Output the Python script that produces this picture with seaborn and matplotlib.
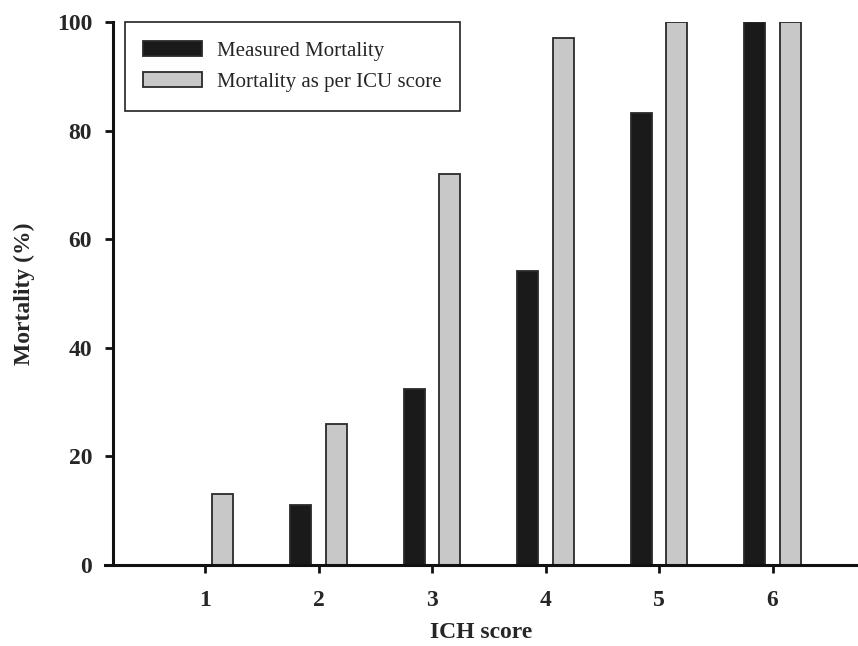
import matplotlib
matplotlib.use("Agg")
import matplotlib.pyplot as plt
import seaborn as sns
import pandas as pd

# data
ich_scores = ["1", "2", "3", "4", "5", "6"]
measured_mortality = [0, 11, 32.4, 54.1, 83.3, 100]
icu_score_mortality = [13, 26, 72, 97, 100, 100]
series_names = ["Measured Mortality", "Mortality as per ICU score"]

df = pd.DataFrame({
    "ICH score": ich_scores * 2,
    "Mortality": measured_mortality + icu_score_mortality,
    "Series": [series_names[0]] * len(ich_scores) + [series_names[1]] * len(ich_scores),
})

sns.set_theme(style="ticks")
plt.rcParams["font.family"] = ["Liberation Serif", "DejaVu Serif"]

fig = plt.figure(figsize=(8.58, 6.46), dpi=100)
ax = fig.add_axes([0.1224, 0.1254, 0.8776, 0.8406])

palette = {series_names[0]: "#1a1a1a", series_names[1]: "#c8c8c8"}
sns.barplot(data=df, x="ICH score", y="Mortality", hue="Series",
            order=ich_scores, hue_order=series_names, palette=palette,
            width=0.62, gap=0.4, edgecolor="#2a2a2a", linewidth=1.3,
            saturation=1, ax=ax)

ax.set_xlim(-0.881, 5.753)
ax.set_ylim(0, 100)
ax.set_yticks([0, 20, 40, 60, 80, 100])

ax.spines["top"].set_visible(False)
ax.spines["right"].set_visible(False)
ax.spines["left"].set_position(("data", -0.81))
for side in ["left", "bottom"]:
    ax.spines[side].set_linewidth(2.2)
    ax.spines[side].set_color("#111111")

ax.tick_params(axis="both", direction="out", length=6, width=2, color="#111111",
               labelsize=17)
ax.tick_params(axis="x", pad=12)
ax.tick_params(axis="y", pad=9)
for lab in ax.get_xticklabels() + ax.get_yticklabels():
    lab.set_fontweight("bold")

ax.set_xlabel("ICH score", fontsize=17, fontweight="bold", labelpad=8)
ax.set_ylabel("Mortality (%)", fontsize=17, fontweight="bold")
ax.yaxis.set_label_coords(-0.093, 0.5)

leg = ax.legend(loc="upper left", bbox_to_anchor=(0.026, 1.0), borderaxespad=0,
                fontsize=15, frameon=True, fancybox=False, framealpha=1,
                edgecolor="#222222", handlelength=2.8, handleheight=0.75,
                borderpad=0.9, labelspacing=0.55, handletextpad=0.72)
leg.get_frame().set_linewidth(1.2)

fig.savefig("out.png", dpi=100)
